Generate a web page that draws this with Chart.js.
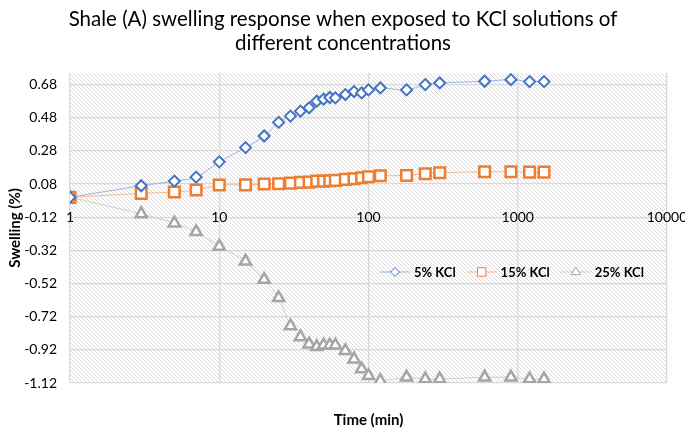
<!DOCTYPE html>
<html>
<head>
<meta charset="utf-8">
<script src="https://cdn.jsdelivr.net/npm/chart.js@4"></script>
<style>
  html, body { margin: 0; padding: 0; background: #fff; }
  #wrap { width: 685px; height: 430px; }
</style>
</head>
<body>
<div id="wrap"><canvas id="chart" width="685" height="430"></canvas></div>
<script>
// Data
const timeMin = [1, 3, 5, 7, 10, 15, 20, 25, 30, 35, 40, 45, 50, 55, 60, 70, 80, 90, 100, 120, 180, 240, 300, 600, 900, 1200, 1500];
const kcl5 = [0, 0.07, 0.098, 0.122, 0.214, 0.30, 0.37, 0.452, 0.49, 0.52, 0.54, 0.58, 0.592, 0.602, 0.60, 0.62, 0.638, 0.63, 0.648, 0.66, 0.648, 0.68, 0.69, 0.70, 0.71, 0.698, 0.698];
const kcl15 = [0, 0.024, 0.032, 0.044, 0.074, 0.075, 0.08, 0.082, 0.086, 0.09, 0.092, 0.098, 0.098, 0.10, 0.102, 0.108, 0.112, 0.118, 0.124, 0.13, 0.132, 0.142, 0.148, 0.154, 0.154, 0.152, 0.152];
const kcl25 = [0, -0.10, -0.156, -0.208, -0.296, -0.386, -0.496, -0.606, -0.776, -0.842, -0.886, -0.902, -0.892, -0.892, -0.892, -0.926, -0.976, -1.036, -1.076, -1.106, -1.086, -1.096, -1.096, -1.086, -1.086, -1.096, -1.096];
const seriesNames = ['5% KCl', '15% KCl', '25% KCl'];
const xTicks = [1, 10, 100, 1000, 10000];
const yTicks = [-1.12, -0.92, -0.72, -0.52, -0.32, -0.12, 0.08, 0.28, 0.48, 0.68];

const FONT = 'Lato, "Open Sans", sans-serif';

function points(ys) {
    return ys.map((y, i) => ({ x: timeMin[i], y: y }));
}

// hatched plot background
function makeHatch(ctx) {
    const c = document.createElement('canvas');
    c.width = 4; c.height = 4;
    const p = c.getContext('2d');
    p.fillStyle = '#ffffff';
    p.fillRect(0, 0, 4, 4);
    p.strokeStyle = '#dadada';
    p.lineWidth = 1;
    p.beginPath();
    p.moveTo(-1, -1); p.lineTo(5, 5);
    p.moveTo(-1, 3); p.lineTo(1, 5);
    p.moveTo(3, -1); p.lineTo(5, 1);
    p.stroke();
    return ctx.createPattern(c, 'repeat');
}

const hatchPlugin = {
    id: 'hatch',
    beforeDraw(chart) {
        const { ctx, chartArea: a } = chart;
        ctx.save();
        ctx.fillStyle = makeHatch(ctx);
        ctx.fillRect(a.left, a.top, a.right - a.left, a.bottom - a.top);
        ctx.restore();
    }
};

// titles and the in-plot legend
const textPlugin = {
    id: 'texts',
    afterDraw(chart) {
        const { ctx, chartArea: a } = chart;
        ctx.save();
        ctx.fillStyle = '#000';
        ctx.textAlign = 'center';
        ctx.textBaseline = 'middle';
        ctx.font = '20.5px ' + FONT;
        ctx.fillText('Shale (A) swelling response when exposed to KCl solutions of', 343, 19);
        ctx.fillText('different concentrations', 343, 43);

        ctx.font = 'bold 15px ' + FONT;
        ctx.fillText('Time (min)', (a.left + a.right) / 2, 420);
        ctx.save();
        ctx.translate(15, (a.top + a.bottom) / 2);
        ctx.rotate(-Math.PI / 2);
        ctx.fillText('Swelling (%)', 0, 0);
        ctx.restore();

        // legend
        const ly = 272;
        let lx = 380;
        ctx.textAlign = 'left';
        ctx.font = 'bold 13px ' + FONT;
        chart.data.datasets.forEach((ds) => {
            ctx.strokeStyle = ds.borderColor;
            ctx.lineWidth = 1;
            ctx.beginPath();
            ctx.moveTo(lx, ly); ctx.lineTo(lx + 30, ly);
            ctx.stroke();
            ctx.strokeStyle = ds.pointBorderColor;
            ctx.fillStyle = '#fff';
            Chart.helpers.drawPoint(ctx, {
                pointStyle: ds.pointStyle,
                radius: ds.pointRadius * 0.8,
                borderWidth: 2,
                rotation: 0
            }, lx + 15, ly);
            ctx.fillStyle = '#000';
            ctx.fillText(ds.label, lx + 34, ly + 1);
            lx += 34 + ctx.measureText(ds.label).width + 11;
        });
        ctx.restore();
    }
};

function series(label, ys, line, marker, style, radius, bw) {
    return {
        label: label,
        data: points(ys),
        showLine: true,
        borderColor: line,
        borderWidth: 1,
        tension: 0.3,
        pointStyle: style,
        pointRadius: radius,
        pointHoverRadius: radius,
        pointBorderColor: marker,
        pointBackgroundColor: '#ffffff',
        pointBorderWidth: bw
    };
}

new Chart(document.getElementById('chart'), {
    type: 'scatter',
    data: {
        datasets: [
            series(seriesNames[0], kcl5, '#9db3e2', '#4472c4', 'rectRot', 5.5, 2),
            series(seriesNames[1], kcl15, '#f5b990', '#ed7d31', 'rect', 7.5, 2.5),
            series(seriesNames[2], kcl25, '#cfcfcf', '#a5a5a5', 'triangle', 6.5, 2.5)
        ]
    },
    options: {
        responsive: false,
        animation: false,
        devicePixelRatio: 1,
        layout: { padding: { top: 73, right: 18, bottom: 47, left: 0 } },
        plugins: {
            legend: { display: false },
            title: { display: false },
            tooltip: { enabled: false }
        },
        scales: {
            x: {
                type: 'logarithmic',
                position: { y: 0 },
                min: 1,
                max: 10000,
                afterBuildTicks: (scale) => { scale.ticks = xTicks.map(v => ({ value: v })); },
                afterFit: (scale) => {
                    scale.paddingLeft = 0;
                    scale.paddingRight = 0;
                },
                ticks: {
                    callback: (v) => String(v),
                    color: '#000',
                    font: { family: FONT, size: 14 },
                    padding: 12,
                    maxRotation: 0,
                    autoSkip: false
                },
                grid: { color: '#d9d9d9', lineWidth: 1.3, drawTicks: false },
                border: { display: false }
            },
            y: {
                min: -1.12,
                max: 0.75,
                afterBuildTicks: (scale) => { scale.ticks = yTicks.map(v => ({ value: v })); },
                afterFit: (scale) => {
                    scale.width = 70;
                    scale.paddingTop = 0;
                    scale.paddingBottom = 0;
                },
                ticks: {
                    callback: (v) => Number(v).toFixed(2),
                    color: '#000',
                    font: { family: FONT, size: 14 },
                    padding: 13
                },
                grid: { color: '#d9d9d9', lineWidth: 1.3, drawTicks: false },
                border: { display: false }
            }
        }
    },
    plugins: [hatchPlugin, textPlugin]
});
</script>
</body>
</html>
